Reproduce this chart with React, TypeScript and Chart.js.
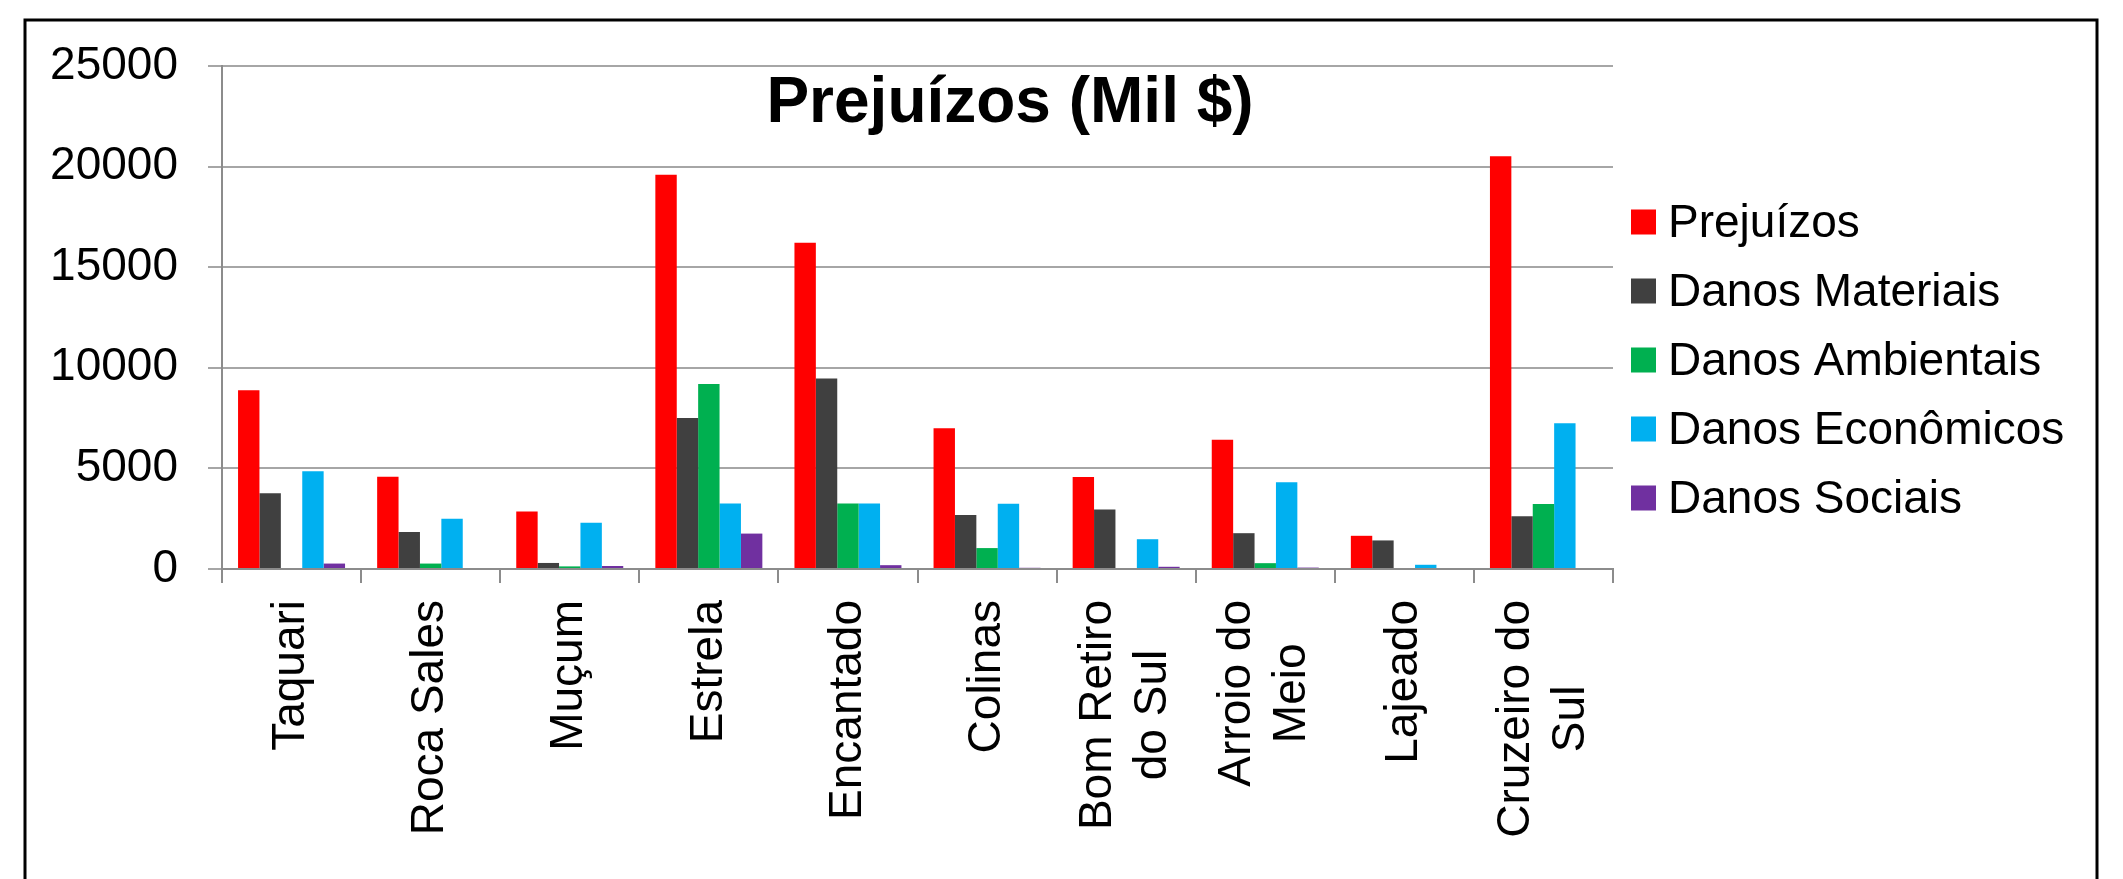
import React, { useEffect, useRef } from "react";
import { Chart, registerables } from "chart.js";

Chart.register(...registerables);

const categories: string[][] = [
  ["Taquari"],
  ["Roca Sales"],
  ["Muçum"],
  ["Estrela"],
  ["Encantado"],
  ["Colinas"],
  ["Bom Retiro", "do Sul"],
  ["Arroio do", "Meio"],
  ["Lajeado"],
  ["Cruzeiro do", "Sul"],
];

const prejuizos = [8880, 4590, 2860, 19600, 16220, 7000, 4570, 6430, 1650, 20520];
const danosMateriais = [3760, 1840, 300, 7510, 9470, 2680, 2960, 1780, 1420, 2620];
const danosAmbientais = [0, 270, 130, 9200, 3260, 1040, 0, 290, 0, 3230];
const danosEconomicos = [4860, 2500, 2300, 3260, 3260, 3240, 1480, 4310, 210, 7250];
const danosSociais = [270, 0, 150, 1760, 190, 60, 110, 70, 0, 0];

const seriesLabels = [
  "Prejuízos",
  "Danos Materiais",
  "Danos Ambientais",
  "Danos Econômicos",
  "Danos Sociais",
];
const seriesColors = ["#FF0000", "#404040", "#00B050", "#00B0F0", "#7030A0"];

const titleText = "Prejuízos (Mil $)";
const yTicks = [0, 5000, 10000, 15000, 20000, 25000];

const W = 2123;
const H = 879;
const FONT = "'Liberation Sans', Arial, sans-serif";

export default function App() {
  const ref = useRef<HTMLCanvasElement | null>(null);

  useEffect(() => {
    const canvas = ref.current;
    if (!canvas) return;

    const decor = {
      id: "decor",
      beforeDraw(chart: any) {
        const ctx = chart.ctx;
        ctx.save();
        ctx.fillStyle = "#ffffff";
        ctx.fillRect(0, 0, W, H);
        ctx.strokeStyle = "#000000";
        ctx.lineWidth = 3;
        ctx.strokeRect(25, 20, 2072, 920);
        ctx.restore();
      },
      afterDraw(chart: any) {
        const ctx = chart.ctx;
        const xs = chart.scales.x;
        const area = chart.chartArea;
        ctx.save();
        // title
        ctx.fillStyle = "#000";
        ctx.font = `bold 64px ${FONT}`;
        ctx.textAlign = "center";
        ctx.textBaseline = "alphabetic";
        ctx.fillText(titleText, 1010, 122);

        // category labels
        ctx.font = `46px ${FONT}`;
        const lh = 55;
        categories.forEach((lines, i) => {
          const px = xs.getPixelForValue(i);
          const maxW = Math.max(...lines.map((l) => ctx.measureText(l).width));
          ctx.save();
          ctx.translate(px, area.bottom + 31);
          ctx.rotate(-Math.PI / 2);
          ctx.textAlign = "center";
          ctx.textBaseline = "middle";
          lines.forEach((ln, j) => {
            ctx.fillText(ln, -maxW / 2, (j - (lines.length - 1) / 2) * lh);
          });
          ctx.restore();
        });

        // legend
        const lx = 1631;
        const rows = [222, 291, 360, 429, 498];
        chart.data.datasets.forEach((ds: any, i: number) => {
          const cy = rows[i];
          ctx.fillStyle = ds.backgroundColor;
          ctx.fillRect(lx, cy - 12.5, 25, 25);
          ctx.fillStyle = "#000";
          ctx.font = `46px ${FONT}`;
          ctx.textAlign = "left";
          ctx.textBaseline = "middle";
          ctx.fillText(ds.label, 1668, cy + 2);
        });
        ctx.restore();
      },
    };

    const series = [prejuizos, danosMateriais, danosAmbientais, danosEconomicos, danosSociais];

    const chart = new Chart(canvas, {
      type: "bar",
      data: {
        labels: categories.map((c) => c.join(" ")),
        datasets: series.map((d, i) => ({
          label: seriesLabels[i],
          data: d,
          backgroundColor: seriesColors[i],
          borderWidth: 0,
          categoryPercentage: 5 / 6.5,
          barPercentage: 1,
        })),
      },
      options: {
        responsive: false,
        animation: false,
        devicePixelRatio: 1,
        layout: { padding: { left: 0, top: 66, right: W - 1613, bottom: 0 } },
        plugins: {
          legend: { display: false },
          title: { display: false },
          tooltip: { enabled: false },
        },
        scales: {
          x: {
            grid: {
              display: true,
              drawOnChartArea: false,
              drawTicks: true,
              tickLength: 14,
              color: "#8c8c8c",
              lineWidth: 2,
              offset: true,
            },
            border: { display: true, color: "#8c8c8c", width: 2 },
            ticks: { display: false },
            afterFit: (s: any) => {
              s.height = H - 569;
            },
          },
          y: {
            min: 0,
            max: 25000,
            afterBuildTicks: (s: any) => {
              s.ticks = yTicks.map((v) => ({ value: v }));
            },
            ticks: {
              padding: 30,
              color: "#000",
              font: { family: FONT, size: 46 },
              callback: (v: any) => String(v),
            },
            grid: { color: "#a6a6a6", lineWidth: 2, tickLength: 14, drawTicks: true },
            border: { display: true, color: "#8c8c8c", width: 2 },
            afterFit: (s: any) => {
              s.width = 222;
            },
          },
        },
      },
      plugins: [decor],
    } as any);

    return () => chart.destroy();
  }, []);

  return (
    <canvas
      ref={ref}
      width={W}
      height={H}
      style={{ position: "fixed", left: 0, top: 0, width: W, height: H, display: "block" }}
    />
  );
}
